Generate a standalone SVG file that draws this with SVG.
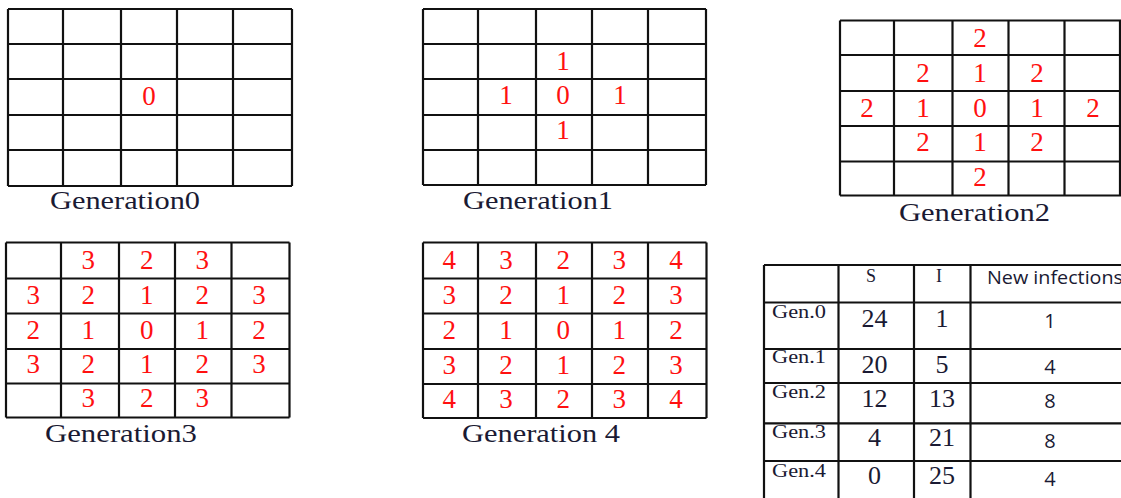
<svg xmlns="http://www.w3.org/2000/svg" width="1121" height="498" viewBox="0 0 1121 498">
<style>
.ln{stroke:#111;stroke-width:2.2;fill:none}
.d{font-family:"Liberation Serif","Times New Roman",serif;font-size:27px;fill:#ff1010;text-anchor:middle}
.lb{font-family:"Liberation Serif","Times New Roman",serif;font-size:26px;fill:#1a1a33}
.tv{font-family:"Liberation Serif","Times New Roman",serif;font-size:26px;fill:#1a1a33;text-anchor:middle}
.th{font-family:"Liberation Serif","Times New Roman",serif;font-size:18px;fill:#1a1a33;text-anchor:middle}
.tg{font-family:"Liberation Serif","Times New Roman",serif;font-size:19px;fill:#1a1a33}
.sn{font-family:"Open Sans","Noto Sans",sans-serif;font-size:20px;fill:#1a1a33;text-anchor:middle}
.sh{font-family:"Open Sans","Noto Sans",sans-serif;font-size:18px;fill:#1a1a33}
</style>
<rect width="1121" height="498" fill="#fff"/>

<g id="gen0">
<path class="ln" d="M8,9V186M63,9V186M121,9V186M177,9V186M233,9V186M292,9V186M8,9H292M8,44H292M8,79H292M8,115H292M8,150H292M8,186H292"/>
<text class="d" x="149" y="104.5">0</text>
<text class="lb" x="50" y="209" textLength="150" lengthAdjust="spacingAndGlyphs">Generation0</text>
</g>

<g id="gen1">
<path class="ln" d="M423,9V185M478,9V185M536,9V185M592,9V185M648,9V185M706,9V185M423,9H706M423,44H706M423,79H706M423,115H706M423,150H706M423,185H706"/>
<text class="d" x="563" y="70">1</text>
<text class="d" x="506" y="104">1</text>
<text class="d" x="563" y="104">0</text>
<text class="d" x="620" y="104">1</text>
<text class="d" x="563" y="138.5">1</text>
<text class="lb" x="463" y="209" textLength="150" lengthAdjust="spacingAndGlyphs">Generation1</text>
</g>

<g id="gen2">
<path class="ln" d="M840,20.5V195.5M894,20.5V195.5M952.5,20.5V195.5M1008.5,20.5V195.5M1064.5,20.5V195.5M1120,20.5V195.5M840,20.5H1121M840,55H1121M840,91H1121M840,126H1121M840,161.5H1121M840,195.5H1121"/>
<text class="d" x="980" y="47">2</text>
<text class="d" x="923" y="81.5">2</text>
<text class="d" x="980" y="81.5">1</text>
<text class="d" x="1037" y="81.5">2</text>
<text class="d" x="867" y="116.5">2</text>
<text class="d" x="923" y="116.5">1</text>
<text class="d" x="980" y="116.5">0</text>
<text class="d" x="1037" y="116.5">1</text>
<text class="d" x="1093" y="116.5">2</text>
<text class="d" x="923" y="151">2</text>
<text class="d" x="980" y="151">1</text>
<text class="d" x="1037" y="151">2</text>
<text class="d" x="980" y="185.5">2</text>
<text class="lb" x="899" y="221" textLength="151" lengthAdjust="spacingAndGlyphs">Generation2</text>
</g>

<g id="gen3">
<path class="ln" d="M6,242.5V417.5M61,242.5V417.5M119,242.5V417.5M175,242.5V417.5M231.5,242.5V417.5M289.5,242.5V417.5M6,242.5H289.5M6,278.5H289.5M6,313.5H289.5M6,349H289.5M6,383.5H289.5M6,417.5H289.5"/>
<text class="d" x="88.3" y="268.8">3</text>
<text class="d" x="146.7" y="268.8">2</text>
<text class="d" x="202.3" y="268.8">3</text>
<text class="d" x="33.3" y="303.8">3</text>
<text class="d" x="88.3" y="303.8">2</text>
<text class="d" x="146.7" y="303.8">1</text>
<text class="d" x="202.3" y="303.8">2</text>
<text class="d" x="259" y="303.8">3</text>
<text class="d" x="33.3" y="338.8">2</text>
<text class="d" x="88.3" y="338.8">1</text>
<text class="d" x="146.7" y="338.8">0</text>
<text class="d" x="202.3" y="338.8">1</text>
<text class="d" x="259" y="338.8">2</text>
<text class="d" x="33.3" y="373.2">3</text>
<text class="d" x="88.3" y="373.2">2</text>
<text class="d" x="146.7" y="373.2">1</text>
<text class="d" x="202.3" y="373.2">2</text>
<text class="d" x="259" y="373.2">3</text>
<text class="d" x="88.3" y="407.2">3</text>
<text class="d" x="146.7" y="407.2">2</text>
<text class="d" x="202.3" y="407.2">3</text>
<text class="lb" x="45" y="442" textLength="152" lengthAdjust="spacingAndGlyphs">Generation3</text>
</g>

<g id="gen4">
<path class="ln" d="M423,242.5V418M478,242.5V418M536,242.5V418M592,242.5V418M648,242.5V418M706.5,242.5V418M423,242.5H706.5M423,278.5H706.5M423,313.5H706.5M423,349H706.5M423,384H706.5M423,418H706.5"/>
<text class="d" x="449.3" y="268.8">4</text>
<text class="d" x="506" y="268.8">3</text>
<text class="d" x="563.3" y="268.8">2</text>
<text class="d" x="619.3" y="268.8">3</text>
<text class="d" x="676" y="268.8">4</text>
<text class="d" x="449.3" y="303.8">3</text>
<text class="d" x="506" y="303.8">2</text>
<text class="d" x="563.3" y="303.8">1</text>
<text class="d" x="619.3" y="303.8">2</text>
<text class="d" x="676" y="303.8">3</text>
<text class="d" x="449.3" y="338.8">2</text>
<text class="d" x="506" y="338.8">1</text>
<text class="d" x="563.3" y="338.8">0</text>
<text class="d" x="619.3" y="338.8">1</text>
<text class="d" x="676" y="338.8">2</text>
<text class="d" x="449.3" y="373.8">3</text>
<text class="d" x="506" y="373.8">2</text>
<text class="d" x="563.3" y="373.8">1</text>
<text class="d" x="619.3" y="373.8">2</text>
<text class="d" x="676" y="373.8">3</text>
<text class="d" x="449.3" y="408.2">4</text>
<text class="d" x="506" y="408.2">3</text>
<text class="d" x="563.3" y="408.2">2</text>
<text class="d" x="619.3" y="408.2">3</text>
<text class="d" x="676" y="408.2">4</text>
<text class="lb" x="462" y="442" textLength="158" lengthAdjust="spacingAndGlyphs">Generation 4</text>
</g>

<g id="table">
<path class="ln" d="M764,265V498M838.5,265V498M914,265V498M970.5,265V498M764,265H1121M764,302.5H1121M764,349H1121M764,383H1121M764,423.3H1121M764,461H1121"/>
<text class="th" x="871" y="282">S</text>
<text class="th" x="939" y="282">I</text>
<text class="sh" x="987" y="283.5" textLength="136" lengthAdjust="spacingAndGlyphs">New infections</text>
<text class="tg" x="772" y="318" textLength="54" lengthAdjust="spacingAndGlyphs">Gen.0</text>
<text class="tg" x="772" y="363.3" textLength="54" lengthAdjust="spacingAndGlyphs">Gen.1</text>
<text class="tg" x="772" y="398.3" textLength="54" lengthAdjust="spacingAndGlyphs">Gen.2</text>
<text class="tg" x="772" y="438.3" textLength="54" lengthAdjust="spacingAndGlyphs">Gen.3</text>
<text class="tg" x="772" y="476.7" textLength="54" lengthAdjust="spacingAndGlyphs">Gen.4</text>
<text class="tv" x="874.5" y="326.5">24</text>
<text class="tv" x="942" y="326.5">1</text>
<text class="sn" x="1050" y="327.7">1</text>
<text class="tv" x="874.5" y="373">20</text>
<text class="tv" x="942" y="373">5</text>
<text class="sn" x="1050" y="374.3">4</text>
<text class="tv" x="874.5" y="406.7">12</text>
<text class="tv" x="942" y="406.7">13</text>
<text class="sn" x="1050" y="408.3">8</text>
<text class="tv" x="874.5" y="446">4</text>
<text class="tv" x="942" y="446">21</text>
<text class="sn" x="1050" y="448.3">8</text>
<text class="tv" x="874.5" y="484">0</text>
<text class="tv" x="942" y="484">25</text>
<text class="sn" x="1050" y="486">4</text>
</g>
</svg>
